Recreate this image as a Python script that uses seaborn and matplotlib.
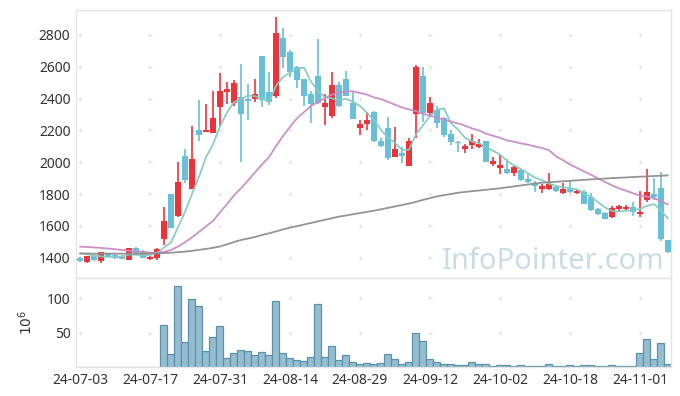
import numpy as np
import pandas as pd
import matplotlib
matplotlib.use("Agg")
import matplotlib.pyplot as plt
import seaborn as sns

# ---------------- data ----------------
holidays = ["2024-08-15", "2024-09-16", "2024-09-17", "2024-09-18",
            "2024-10-01", "2024-10-03", "2024-10-09"]
dates = pd.bdate_range("2024-07-03", "2024-11-07", freq="C", holidays=holidays)

opens = [1395, 1375, 1410, 1379, 1427, 1415, 1412, 1387, 1461, 1440,
         1394, 1400, 1515, 1798, 1662, 2039, 1833, 2202, 2191, 2186,
         2344, 2441, 2375, 2408, 2397, 2395, 2667, 2439, 2416, 2783,
         2695, 2600, 2523, 2429, 2542, 2349, 2292, 2485, 2523, 2374,
         2217, 2242, 2315, 2133, 2217, 2035, 2060, 1978, 2305, 2542,
         2307, 2328, 2276, 2175, 2127, 2085, 2108, 2098, 2133, 1989,
         1961, 1957, 1932, 1951, 1894, 1871, 1832, 1834, 1846, 1806,
         1830, 1806, 1811, 1783, 1706, 1683, 1656, 1704, 1704, 1718,
         1674, 1762, 1800, 1836, 1511]
highs = [1402, 1412, 1415, 1436, 1432, 1422, 1414, 1462, 1468, 1445,
         1408, 1458, 1716, 1800, 2003, 2081, 2227, 2391, 2369, 2448,
         2558, 2506, 2515, 2617, 2490, 2521, 2670, 2569, 2915, 2841,
         2705, 2605, 2525, 2450, 2772, 2429, 2565, 2506, 2573, 2441,
         2265, 2317, 2320, 2150, 2286, 2219, 2098, 2150, 2611, 2600,
         2412, 2353, 2285, 2202, 2135, 2114, 2177, 2144, 2135, 2031,
         2049, 2020, 1980, 1955, 1934, 1880, 1860, 1930, 1856, 1871,
         1888, 1825, 1825, 1809, 1710, 1686, 1727, 1731, 1731, 1752,
         1821, 1955, 1903, 1941, 1511]
lows = [1372, 1364, 1380, 1368, 1405, 1390, 1390, 1385, 1424, 1398,
        1385, 1383, 1480, 1585, 1653, 1871, 1833, 2131, 2188, 2182,
        2223, 2368, 2352, 2003, 2263, 2378, 2349, 2359, 2401, 2590,
        2538, 2464, 2353, 2248, 2365, 2233, 2276, 2350, 2414, 2270,
        2171, 2202, 2129, 2098, 2014, 2035, 1993, 1978, 2150, 2255,
        2297, 2213, 2160, 2108, 2066, 2056, 2081, 2090, 1999, 1978,
        1924, 1928, 1913, 1882, 1868, 1815, 1809, 1825, 1810, 1800,
        1806, 1800, 1737, 1696, 1668, 1640, 1647, 1685, 1698, 1662,
        1658, 1752, 1764, 1507, 1427]
closes = [1378, 1410, 1388, 1433, 1410, 1400, 1394, 1459, 1427, 1400,
          1406, 1455, 1630, 1589, 1874, 1888, 2020, 2172, 2202, 2280,
          2449, 2460, 2496, 2306, 2387, 2427, 2393, 2380, 2812, 2663,
          2569, 2517, 2416, 2366, 2370, 2372, 2485, 2353, 2416, 2274,
          2240, 2265, 2133, 2104, 2029, 2081, 2041, 2133, 2598, 2307,
          2372, 2244, 2171, 2129, 2118, 2104, 2133, 2116, 1999, 2010,
          1984, 1934, 1970, 1888, 1876, 1848, 1852, 1861, 1819, 1834,
          1813, 1819, 1740, 1700, 1672, 1645, 1710, 1725, 1721, 1687,
          1687, 1811, 1779, 1517, 1438]
# volume in millions
volumes = [0.3, 0.3, 0.3, 0.3, 0.3, 0.3, 0.3, 0.3, 0.3, 0.3,
           0.3, 0.3, 61, 19, 117, 36, 98.5, 88.4, 23, 43.5,
           59.4, 13, 20.3, 24.6, 23.2, 17.4, 21.3, 17.4, 95.7, 20.3,
           13, 10.6, 8.7, 14.5, 91.3, 14.5, 30.4, 10.6, 17.4, 7.2,
           4.3, 5.8, 4.3, 5.8, 18.8, 11.6, 4.3, 7.2, 49.3, 37.7,
           11.6, 7.2, 4.3, 4.3, 2.9, 2.9, 7.2, 4.3, 4.3, 1.0,
           2.9, 2.9, 1.5, 2.9, 1.5, 1.5, 1.5, 4.3, 1.5, 1.5,
           2.9, 1.0, 2.9, 2.9, 1.5, 1.5, 2.9, 1.5, 1.5, 1.5,
           20.3, 40.6, 11.6, 34.8, 4.3]
# moving averages read from the chart where history is not shown
ma5_head = [1428, 1421, 1414, 1408]
ma20_head = [1469, 1467, 1464, 1461, 1457, 1453, 1448, 1444, 1440, 1435,
             1432, 1431, 1436, 1448, 1470, 1497, 1527, 1562, 1597]
ma120 = [1426, 1426, 1425, 1425, 1425, 1425, 1425, 1425, 1425, 1425,
         1426, 1427, 1429, 1431, 1434, 1438, 1443, 1449, 1455, 1462,
         1470, 1484, 1498, 1511, 1520, 1530, 1542, 1553, 1565, 1577,
         1589, 1598, 1608, 1618, 1628, 1638, 1648, 1658, 1665, 1673,
         1680, 1688, 1695, 1704, 1713, 1722, 1731, 1740, 1751, 1763,
         1774, 1785, 1793, 1800, 1808, 1813, 1818, 1822, 1827, 1831,
         1836, 1842, 1848, 1854, 1860, 1866, 1871, 1874, 1877, 1880,
         1883, 1886, 1889, 1892, 1895, 1897, 1900, 1902, 1904, 1907,
         1909, 1911, 1913, 1915, 1917]

price_ticks = [1400, 1600, 1800, 2000, 2200, 2400, 2600, 2800]
vol_ticks = [50, 100]
tick_step = 10

# ---------------- frame ----------------
n = len(closes)
idx = np.arange(n)
df = pd.DataFrame({"idx": idx, "open": opens, "high": highs, "low": lows,
                   "close": closes, "vol": volumes})
c = df["close"]
df["ma5"] = c.rolling(5).mean()
df.loc[:3, "ma5"] = ma5_head
df["ma20"] = c.rolling(20).mean()
df.loc[:18, "ma20"] = ma20_head
df["ma120"] = ma120

UP = "#ec3339"
DOWN = "#68c0d8"
TXT = "#333333"
SPINE = "#e4e4e4"

sns.set_theme(style="white")
plt.rcParams["font.family"] = ["Noto Sans", "DejaVu Sans"]

W, H = 680, 396
fig = plt.figure(figsize=(W / 100, H / 100), dpi=100)
L, R = 76, 671
ax = fig.add_axes([L / W, 1 - 278 / H, (R - L) / W, 268 / H])
axv = fig.add_axes([L / W, 1 - 367 / H, (R - L) / W, 89 / H])

# grid crosses
xt = np.arange(0, n, tick_step)
gx, gy = np.meshgrid(xt, price_ticks)
ax.scatter(gx.ravel(), gy.ravel(), marker="+", s=12, color="#e2e2e2",
           linewidths=0.8, zorder=0)
gx2, gy2 = np.meshgrid(xt, vol_ticks)
axv.scatter(gx2.ravel(), gy2.ravel(), marker="+", s=12, color="#e2e2e2",
            linewidths=0.8, zorder=0)

# watermark
ax.text(0.99, 0.035, "InfoPointer.com", transform=ax.transAxes, ha="right",
        va="baseline", fontsize=21, color="#c9dbe5", zorder=1)

# candles
up = df["close"] >= df["open"]
cols = np.where(up, UP, DOWN)
ax.vlines(df["idx"], df["low"], df["high"], colors=cols, linewidth=1.2, zorder=2)
body_lo = np.minimum(df["open"], df["close"])
body_h = np.maximum((df["close"] - df["open"]).abs(), 7)
ax.bar(df["idx"], body_h, bottom=body_lo, width=0.72, color=cols,
       linewidth=0, zorder=3)

# moving averages
sns.lineplot(data=df, x="idx", y="ma5", ax=ax, color="#86cbbf", linewidth=1.3,
             alpha=0.95, zorder=4)
sns.lineplot(data=df, x="idx", y="ma20", ax=ax, color="#c98ac6", linewidth=1.3,
             alpha=0.95, zorder=4)
sns.lineplot(data=df, x="idx", y="ma120", ax=ax, color="#8e8e8e", linewidth=1.3,
             alpha=0.95, zorder=4)

# volume
sns.barplot(data=df, x="idx", y="vol", ax=axv, native_scale=True, width=1.0,
            color="#95bdcf", saturation=1, edgecolor="#5a92ac", linewidth=0.9,
            zorder=2)

for a in (ax, axv):
    a.set_xlim(-0.57, 84.43)
    for s in a.spines.values():
        s.set_color(SPINE)
        s.set_linewidth(1)
    a.tick_params(length=0, colors=TXT, labelsize=10, pad=4)
    a.set_xlabel("")

ax.set_ylim(1272, 2957)
ax.set_yticks(price_ticks)
ax.set_ylabel("")
ax.set_xticks(xt)
ax.tick_params(labelbottom=False)

axv.set_ylim(0, 129)
axv.set_yticks(vol_ticks)
axv.set_xticks(xt)
axv.set_xticklabels([d.strftime("%y-%m-%d") for d in dates[::tick_step]])
axv.set_ylabel("$10^6$", color=TXT, fontsize=10, labelpad=8)

fig.savefig("out.png", dpi=100)
